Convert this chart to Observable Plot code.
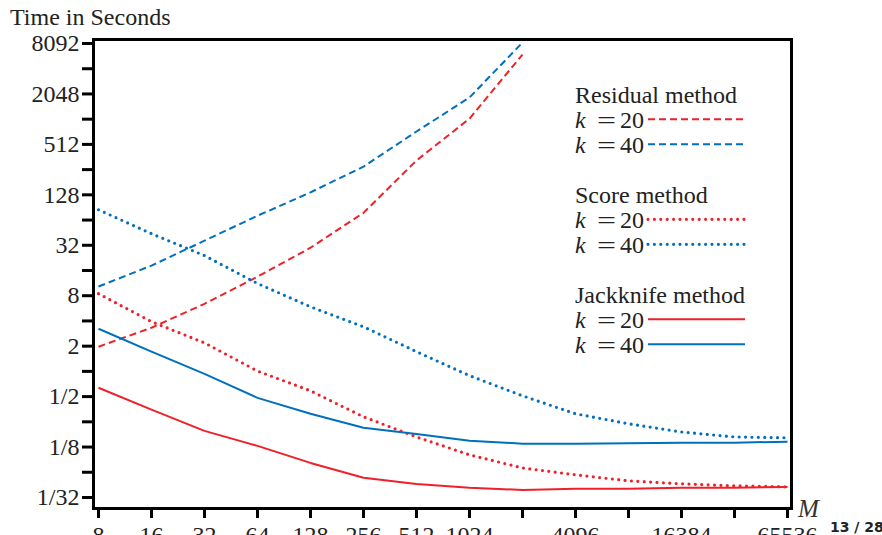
<!DOCTYPE html>
<html>
<head>
<meta charset="utf-8">
<script src="https://cdn.jsdelivr.net/npm/d3@7"></script>
<script src="https://cdn.jsdelivr.net/npm/@observablehq/plot@0.6"></script>
<style>
  html, body { margin: 0; padding: 0; background: #fff; overflow: hidden; }
  #wrap { position: relative; width: 882px; height: 535px; font-family: "Liberation Serif", serif; color: #000; }
  #wrap > svg { position: absolute; left: 0; top: 0; }
  #wrap svg text { font-family: "Liberation Serif", serif; }
  #wrap svg text.sans { font-family: "DejaVu Sans", sans-serif; }
  #overlay { pointer-events: none; }
</style>
</head>
<body>
<div id="wrap"></div>
<script>
// ---- data ----
const sizesM = [8, 16, 32, 64, 128, 256, 512, 1024, 2048, 4096, 8192, 16384, 32768, 65536];
const residualK20 = [1.97, 3.32, 6.4, 13.5, 29.9, 78, 329, 1040, 6050];
const residualK40 = [10.3, 18.3, 36.3, 72, 137, 278, 729, 1860, 8400];
const scoreK20 = [8.46, 3.92, 2.19, 1.01, 0.586, 0.287, 0.165, 0.101, 0.0703, 0.0583, 0.0494, 0.0455, 0.0430, 0.0418];
const scoreK40 = [85, 44, 24.1, 11.2, 5.9, 3.41, 1.72, 0.889, 0.511, 0.312, 0.237, 0.189, 0.165, 0.161];
const jackK20 = [0.637, 0.349, 0.195, 0.129, 0.0808, 0.0537, 0.0454, 0.0407, 0.0385, 0.0396, 0.0396, 0.0407, 0.0407, 0.0418];
const jackK40 = [3.23, 1.72, 0.933, 0.483, 0.312, 0.212, 0.179, 0.149, 0.137, 0.137, 0.139, 0.141, 0.141, 0.145];

const xTickValues = sizesM;
const xTickLabels = ["8", "16", "32", "64", "128", "256", "512", "1024", "", "4096", "", "16384", "", "65536"];
const yTickValues = [1/32, 1/16, 1/8, 1/4, 1/2, 1, 2, 4, 8, 16, 32, 64, 128, 256, 512, 1024, 2048, 4096, 8192];
const yTickLabels = ["1/32", "", "1/8", "", "1/2", "", "2", "", "8", "", "32", "", "128", "", "512", "", "2048", "", "8092"];

const methodNames = ["Residual method", "Score method", "Jackknife method"];
const kValues = [20, 40];
const titleText = "Time in Seconds";
const xAxisName = "M";
const pageText = "13 / 28";

// ---- styles ----
const SERIF = "'Liberation Serif', serif";
const RED = "#EE2129";
const BLUE = "#0070BE";
const styleFor = {
  "Residual method": {strokeDasharray: "7,4", strokeWidth: 2, strokeLinecap: "butt"},
  "Score method": {strokeDasharray: "0,6.4", strokeWidth: 3.2, strokeLinecap: "round"},
  "Jackknife method": {strokeDasharray: null, strokeWidth: 2, strokeLinecap: "butt"}
};
const colorFor = {20: RED, 40: BLUE};

const series = [
  {method: "Residual method", k: 20, values: residualK20},
  {method: "Residual method", k: 40, values: residualK40},
  {method: "Score method", k: 20, values: scoreK20},
  {method: "Score method", k: 40, values: scoreK40},
  {method: "Jackknife method", k: 20, values: jackK20},
  {method: "Jackknife method", k: 40, values: jackK40}
];

const xLabelMap = new Map(xTickValues.map((v, i) => [v, xTickLabels[i]]));
const yLabelMap = new Map(yTickValues.map((v, i) => [v, yTickLabels[i]]));

const lineMarks = series.map(s => {
  const rows = s.values.map((t, i) => ({M: sizesM[i], t}));
  const st = styleFor[s.method];
  const opts = {x: "M", y: "t", stroke: colorFor[s.k], strokeWidth: st.strokeWidth, strokeLinecap: st.strokeLinecap, clip: true};
  if (st.strokeDasharray) opts.strokeDasharray = st.strokeDasharray;
  return Plot.line(rows, opts);
});

const chart = Plot.plot({
  width: 882,
  height: 535,
  marginTop: 39,
  marginBottom: 27,
  marginLeft: 93,
  marginRight: 91,
  style: {fontFamily: SERIF, fontSize: "24px", color: "black", background: "white", overflow: "visible"},
  x: {type: "log", base: 2, domain: [2 ** 2.906, 2 ** 16.075]},
  y: {type: "log", base: 2, domain: [2 ** -5.437, 2 ** 13.159]},
  marks: [
    Plot.axisX({ticks: xTickValues, tickFormat: d => xLabelMap.get(d) ?? "", tickSize: 10, tickPadding: 7, strokeWidth: 3, label: null, fontSize: 24, fontFamily: SERIF, fill: "#222"}),
    Plot.axisY({ticks: yTickValues, tickFormat: d => yLabelMap.get(d) ?? "", tickSize: 11, tickPadding: 3, strokeWidth: 3, label: null, fontSize: 24, fontFamily: SERIF, fill: "#222"}),
    ...lineMarks,
    Plot.frame({stroke: "black", strokeWidth: 3})
  ]
});
document.getElementById("wrap").appendChild(chart);

// ---- overlay: title, legend, axis name, page number ----
const ov = d3.select("#wrap").append("svg")
  .attr("id", "overlay")
  .attr("width", 882).attr("height", 535);

ov.append("text").attr("x", 10).attr("y", 25).attr("font-size", 24).attr("fill", "#222").text(titleText);

ov.append("text").attr("x", 798).attr("y", 517).attr("font-size", 25).attr("font-style", "italic").attr("fill", "#333").text(xAxisName);

ov.append("text").attr("class", "sans").attr("x", 830).attr("y", 532).attr("font-size", 14).attr("font-weight", "bold")
  .attr("fill", "#222").text(pageText);

const legX = 575, lineX1 = 648, lineX2 = 745;
methodNames.forEach((m, gi) => {
  const base = 103 + gi * 100;
  ov.append("text").attr("x", legX).attr("y", base).attr("font-size", 24).attr("fill", "#222").text(m);
  kValues.forEach((k, ri) => {
    const rowBase = base + 25 * (ri + 1);
    ov.append("text").attr("x", legX).attr("y", rowBase).attr("font-size", 24).attr("font-style", "italic").attr("fill", "#222").text("k");
    ov.append("text").attr("x", 597).attr("y", rowBase).attr("font-size", 24)
      .attr("textLength", 19).attr("lengthAdjust", "spacingAndGlyphs").attr("fill", "#222").text("=");
    ov.append("text").attr("x", 620).attr("y", rowBase).attr("font-size", 24).attr("fill", "#222").text(String(k));
    const st = styleFor[m];
    const ln = ov.append("line")
      .attr("x1", lineX1).attr("x2", lineX2)
      .attr("y1", rowBase - 8.7).attr("y2", rowBase - 8.7)
      .attr("stroke", colorFor[k]).attr("stroke-width", st.strokeWidth)
      .attr("stroke-linecap", st.strokeLinecap);
    if (st.strokeDasharray) ln.attr("stroke-dasharray", st.strokeDasharray);
  });
});
</script>
</body>
</html>
